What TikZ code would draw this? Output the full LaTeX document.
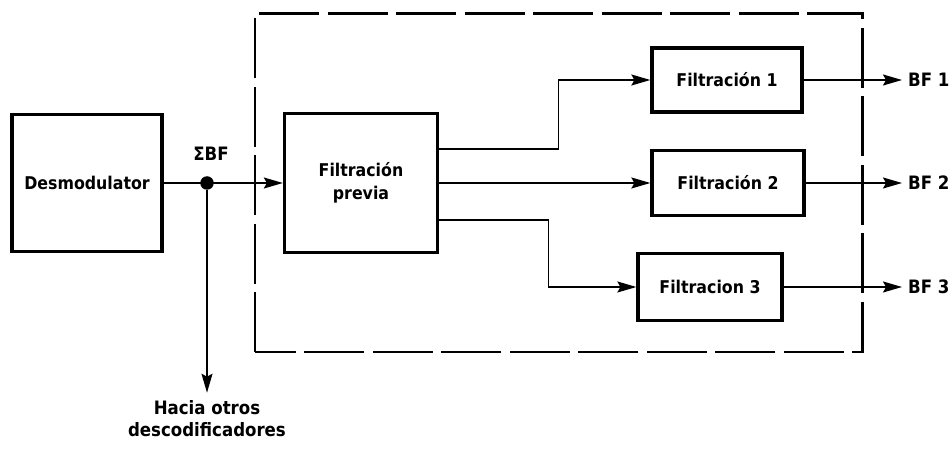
\documentclass[tikz,border=0pt]{standalone}
\usepackage{fontspec}
\setmainfont{DejaVu Sans Condensed}
\usetikzlibrary{arrows.meta,positioning,calc}
\tikzset{
  flow/.style={-{Stealth[length=3.8mm,width=2.2mm,inset=.6mm]},black,line width=0.85pt},
  blk/.style={draw=black,line width=1.9pt,fill=white,text=black,align=center,
              font=\fontsize{10}{13}\selectfont\bfseries,inner sep=1mm},
  frame/.style={draw=black,line width=1.7pt,dash pattern=on 1.2cm off .17cm},
  lbl/.style={text=black,font=\fontsize{10.5}{13}\selectfont\bfseries,align=center},
  dot/.style={circle,fill=black,inner sep=0pt,minimum size=2.7mm},
}
\begin{document}
\begin{tikzpicture}[x=.02cm,y=.02cm]
    \useasboundingbox (0,0) rectangle (952,456);

    % dashed enclosure of the decoder
    \draw[frame] (255,104) rectangle (862,442);

    \node[blk,minimum width=3.0cm,minimum height=2.74cm] (dem) at (87,273) {Desmodulator};
    \node[blk,minimum width=3.06cm,minimum height=2.78cm] (pre) at (361,273) {Filtración\\previa};
    \node[blk,minimum width=3.0cm,minimum height=1.28cm] (fA) at (727,376) {Filtración 1};
    \node[blk,minimum width=3.04cm,minimum height=1.3cm] (fB) at (728,273) {Filtración 2};
    \node[blk,minimum width=2.88cm,minimum height=1.34cm] (fC) at (710,169) {Filtracion 3};

    \node[dot] (sum) at (207,273) {};
    \node[lbl] (sumlbl) at (211,302) {ΣBF};

    \node[lbl,anchor=west] (bfA) at (902,376) {BF 1};
    \node[lbl,anchor=west] (bfB) at (902,273) {BF 2};
    \node[lbl,anchor=west] (bfC) at (902,169) {BF 3};
    \node[lbl,anchor=north,inner sep=1pt] (hacia) at (207,58) {Hacia otros\\descodificadores};

    % signal path
    \draw[flow] (dem.east) -- (pre.west);
    \draw[flow] (sum) -- ([yshift=3pt]hacia.north);
    \draw[flow] ([yshift=.68cm]pre.east) -| ([xshift=-1.84cm]fA.west) -- (fA.west);
    \draw[flow] (pre.east) -- (fB.west);
    \draw[flow] ([yshift=-.74cm]pre.east) -| ([xshift=-1.76cm]fC.west) -- (fC.west);

    \draw[flow] (fA.east) -- (bfA.west);
    \draw[flow] (fB.east) -- (bfB.west);
    \draw[flow] (fC.east) -- (bfC.west);
  \end{tikzpicture}
\end{document}
